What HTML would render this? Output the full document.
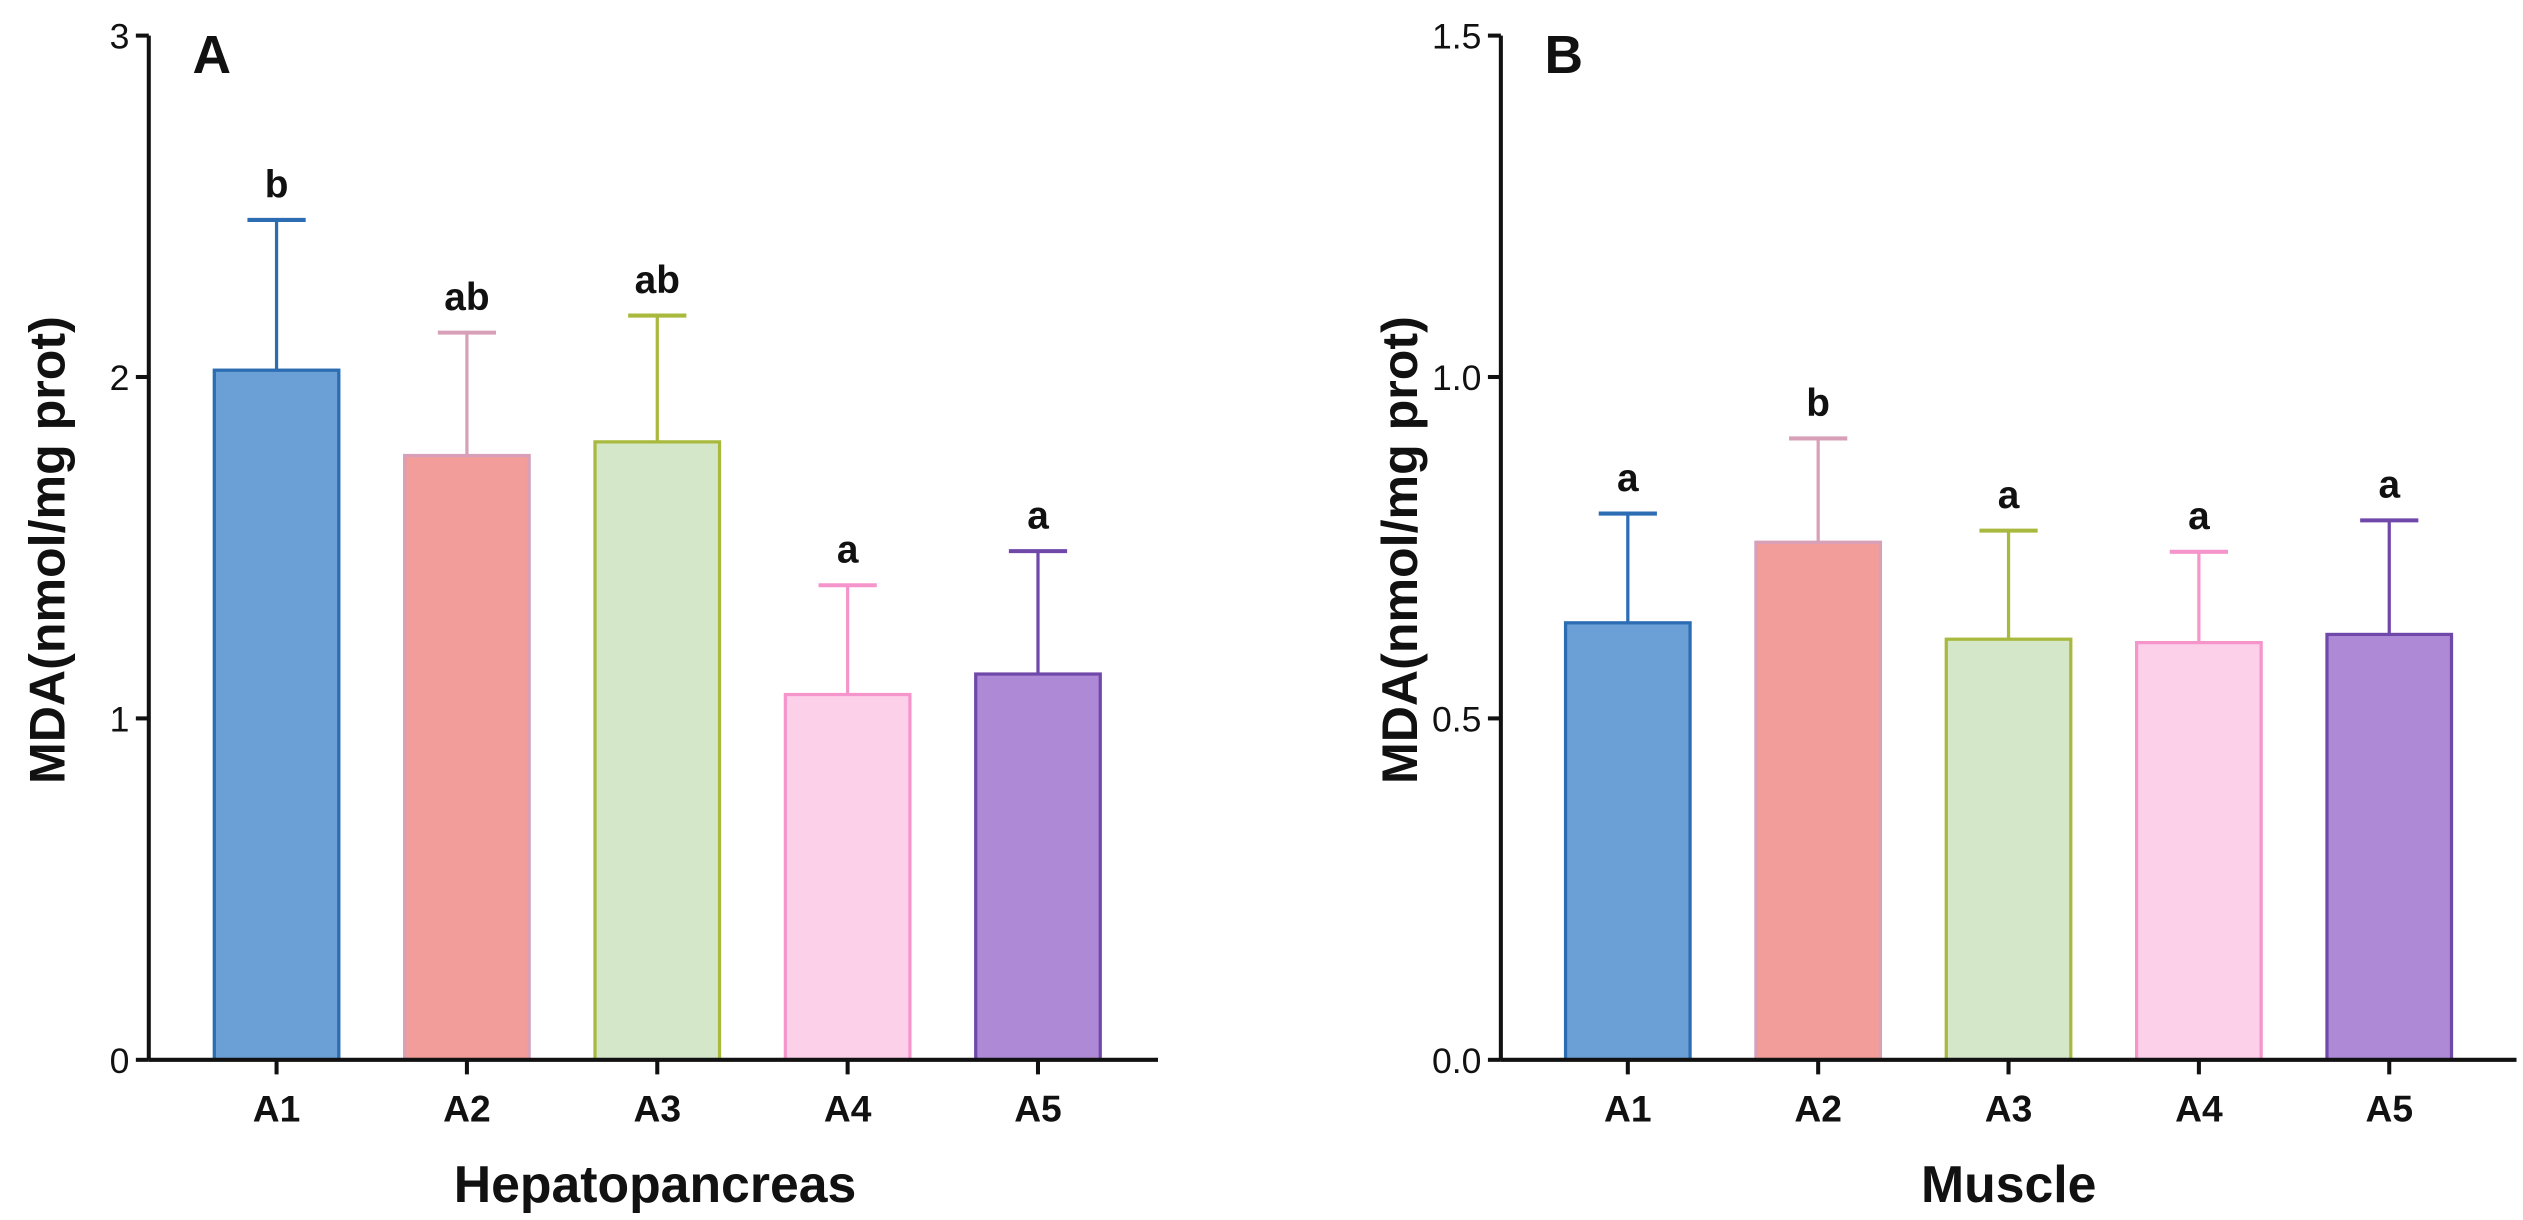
<!DOCTYPE html>
<html><head><meta charset="utf-8"><style>
html,body{margin:0;padding:0;background:#fff;}
svg{display:block;}
text{font-family:"Liberation Sans",Arial,sans-serif;}
</style></head><body>
<svg id="chart" width="2523" height="1220" viewBox="0 0 1560 754" preserveAspectRatio="none" xmlns="http://www.w3.org/2000/svg"></svg>
<script>
const categories = ["A1","A2","A3","A4","A5"];
const hepMeans = [2.02, 1.77, 1.81, 1.07, 1.13];
const hepErr = [2.46, 2.13, 2.18, 1.39, 1.49];
const hepLetters = ["b","ab","ab","a","a"];
const hepTicks = ["0","1","2","3"];
const hepTickVals = [0,1,2,3];
const musMeans = [0.64, 0.758, 0.616, 0.611, 0.623];
const musErr = [0.80, 0.91, 0.775, 0.744, 0.79];
const musLetters = ["a","b","a","a","a"];
const musTicks = ["0.0","0.5","1.0","1.5"];
const musTickVals = [0,0.5,1.0,1.5];
const fills = ["#6aa0d6","#f29d99","#d4e7c9","#fdd0ea","#ae8ad6"];
const strokes = ["#2b6cb3","#d8a0b8","#a9b93e","#f595cc","#7048aa"];

const NS="http://www.w3.org/2000/svg";
const svg=document.getElementById('chart');
function mk(tag,attrs,parent,txt){const e=document.createElementNS(NS,tag);for(const k in attrs)e.setAttribute(k,attrs[k]);if(txt!==undefined)e.textContent=txt;(parent||svg).appendChild(e);return e;}

function panel(id,axisX,xEnd,firstBar,step,ymax,means,errs,letters,ticks,tickVals,label,xtitle,xtitleX){
  const y0=655,yTop=22;
  const y=v=>y0-(v/ymax)*(y0-yTop);
  const g=mk('g',{});
  
  
  const bw=77;
  means.forEach((m,i)=>{
    const cx=firstBar+i*step;
    const eb=mk('line',{x1:cx,x2:cx,y1:y(m),y2:y(errs[i]),stroke:strokes[i],'stroke-width':2},g);
    
    
    const cap=mk('line',{x1:cx-18,x2:cx+18,y1:y(errs[i]),y2:y(errs[i]),stroke:strokes[i],'stroke-width':2.5},g);
    
    
    const r=mk('rect',{x:cx-bw/2,y:y(m),width:bw,height:y0-y(m),fill:fills[i],stroke:strokes[i],'stroke-width':2},g);
    
    
    const lt=mk('text',{x:cx,y:y(errs[i])-14,'text-anchor':'middle','font-size':24,'font-weight':'bold',fill:'#111'},g,letters[i]);
    
    
    const tk=mk('line',{x1:cx,x2:cx,y1:y0,y2:y0+9,stroke:'#111','stroke-width':2.5},g);
    
    
    const cl=mk('text',{x:cx,y:y0+38,'text-anchor':'middle','font-size':23,'font-weight':'bold',fill:'#111'},g,categories[i]);
    
    
  });
  const ya=mk('line',{x1:axisX,x2:axisX,y1:yTop,y2:y0,stroke:'#111','stroke-width':2.5},g);
  
  
  const xa=mk('line',{x1:axisX,x2:xEnd,y1:y0,y2:y0,stroke:'#111','stroke-width':2.5},g);
  
  
  tickVals.forEach((v,i)=>{
    const t=mk('line',{x1:axisX-8,x2:axisX,y1:y(v),y2:y(v),stroke:'#111','stroke-width':2.5},g);
    
    
    const tl=mk('text',{x:axisX-12,y:y(v)+8,'text-anchor':'end','font-size':22,fill:'#111'},g,ticks[i]);
    
    
  });
  const yt=mk('text',{x:0,y:0,transform:`translate(${axisX-52},340) rotate(-90)`,'text-anchor':'middle','font-size':31,'font-weight':'bold',fill:'#111'},g,'MDA(nmol/mg prot)');
  
  
  const xt=mk('text',{x:xtitleX,y:743,'text-anchor':'middle','font-size':32,'font-weight':'bold',fill:'#111'},g,xtitle);
  
  
  const pl=mk('text',{x:axisX+27,y:45,'font-size':33,'font-weight':'bold',fill:'#111'},g,label);
  
  
}
panel('a',92,716,171,117.7,3,hepMeans,hepErr,hepLetters,hepTicks,hepTickVals,'A','Hepatopancreas',405);
panel('b',928,1556,1006.5,117.7,1.5,musMeans,musErr,musLetters,musTicks,musTickVals,'B','Muscle',1242);
</script>
</body></html>
